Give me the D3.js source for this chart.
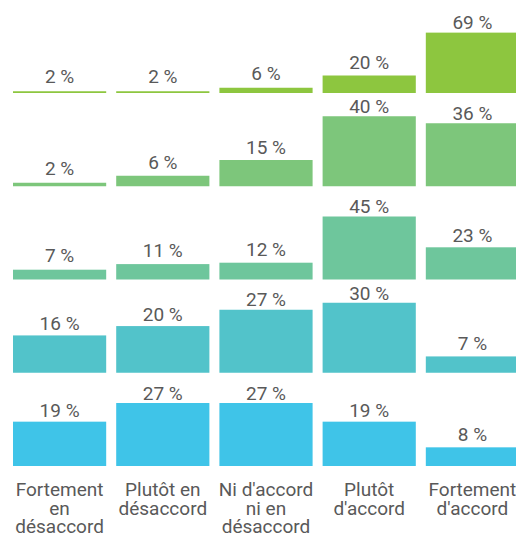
<!DOCTYPE html>
<html>
<head>
<meta charset="utf-8">
<script src="https://cdn.jsdelivr.net/npm/d3@7"></script>
<style>
  body { margin: 0; background: #fff; overflow: hidden; }
  svg { display: block; font-family: Roboto, sans-serif; }
</style>
</head>
<body>
<div id="chart"></div>
<script>
// answer categories (x) and the five stacked small-multiple rows
const categories = ["Fortement en désaccord", "Plutôt en désaccord", "Ni d'accord ni en désaccord", "Plutôt d'accord", "Fortement d'accord"];
const categoryLines = [["Fortement", "en", "désaccord"], ["Plutôt en", "désaccord"], ["Ni d'accord", "ni en", "désaccord"], ["Plutôt", "d'accord"], ["Fortement", "d'accord"]];
const rows = ["r1", "r2", "r3", "r4", "r5"];
const rowColors = ["#8dc63f", "#7dc67b", "#6ec69c", "#52c3ca", "#3fc4e8"];
const row1 = [2, 2, 6, 20, 69];
const row2 = [2, 6, 15, 40, 36];
const row3 = [7, 11, 12, 45, 23];
const row4 = [16, 20, 27, 30, 7];
const row5 = [19, 27, 27, 19, 8];
const rowValues = [row1, row2, row3, row4, row5];

const width = 516, height = 533;
const rowPlotHeight = 70;

const svg = d3.select("#chart").append("svg")
  .attr("width", width)
  .attr("height", height);

const x = d3.scaleBand()
  .domain(categories)
  .range([13, 519])
  .paddingInner(0.097)
  .paddingOuter(0);

// baseline of each row
const rowBase = d3.scalePoint()
  .domain(rows)
  .range([93, 466]);

rows.forEach((r, i) => {
  const data = categories.map((c, j) => ({ cat: c, value: rowValues[i][j] }));
  // each row gets its own scale, rounded up to a nice max
  const h = d3.scaleLinear()
    .domain([0, d3.max(data, d => d.value)])
    .nice(4)
    .range([0, rowPlotHeight]);
  // labels sit a little higher on short bars
  const hLabel = h.copy().range([8, rowPlotHeight + 3]);
  const base = rowBase(r);

  const g = svg.append("g").attr("class", "row");

  g.selectAll("rect")
    .data(data)
    .join("rect")
    .attr("x", d => x(d.cat))
    .attr("width", x.bandwidth())
    .attr("y", d => base - h(d.value))
    .attr("height", d => h(d.value))
    .attr("fill", rowColors[i]);

  g.selectAll("text")
    .data(data)
    .join("text")
    .attr("x", d => x(d.cat) + x.bandwidth() / 2)
    .attr("y", d => base - hLabel(d.value))
    .attr("text-anchor", "middle")
    .style("font-size", "19px")
    .style("fill", "#595959")
    .text(d => d.value + " %");
});

// category labels under the last row
const labels = svg.append("g")
  .selectAll("text")
  .data(categories)
  .join("text")
  .attr("text-anchor", "middle")
  .attr("x", d => x(d) + x.bandwidth() / 2)
  .attr("y", 496)
  .style("font-size", "19px")
  .style("fill", "#595959");

labels.each(function(d, i) {
  d3.select(this).selectAll("tspan")
    .data(categoryLines[i])
    .join("tspan")
    .attr("x", x(d) + x.bandwidth() / 2)
    .attr("dy", (t, k) => k === 0 ? 0 : 18.5)
    .text(t => t);
});
</script>
</body>
</html>
